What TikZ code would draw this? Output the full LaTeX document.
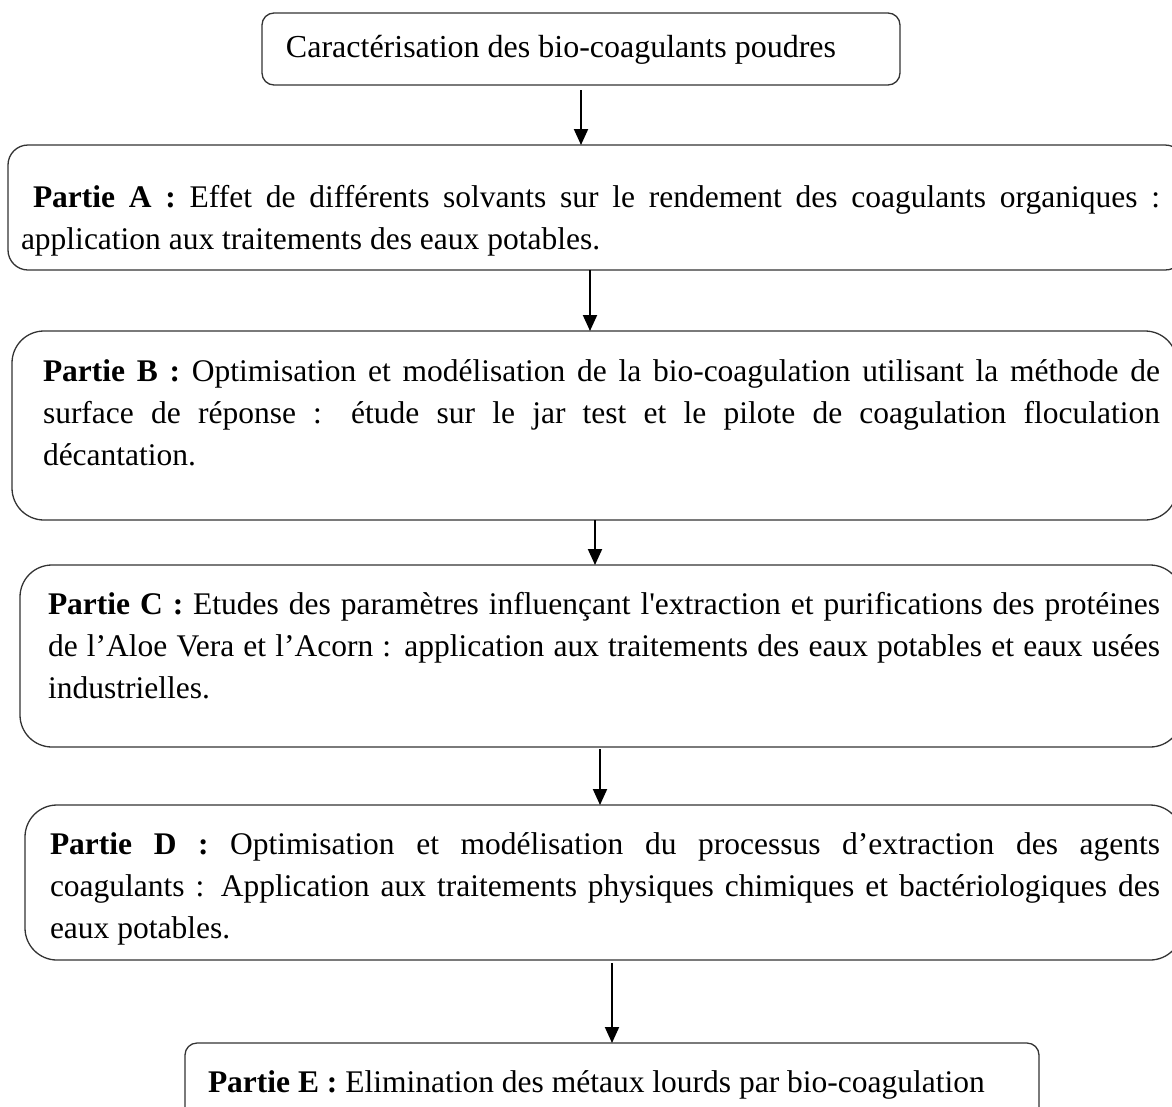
\documentclass[tikz,border=0pt]{standalone}
\usepackage{fontspec}
\newfontfamily\tnr{Liberation Serif}
\usetikzlibrary{arrows.meta}
\begin{document}
\begin{tikzpicture}[x=1pt,y=-1pt,
  every node/.style={inner sep=0pt, outer sep=0pt},
  frame/.style={draw=black!80, line width=1.3pt, rectangle, anchor=north west},
  body/.style={anchor=north west, align=justify, font=\tnr\fontsize{31.5}{42}\selectfont},
  flow/.style={line width=2pt, -{Triangle[width=14pt,length=16pt]}}
]
\useasboundingbox (0,0) rectangle (1172,1106);
\clip (0,0) rectangle (1172,1106);

% boxes (those on the right run past the page edge)
\node[frame, rounded corners=12pt, minimum width=638pt, minimum height=72pt] (top) at (262,13) {};
\node[frame, rounded corners=20pt, minimum width=1177pt, minimum height=125pt] (pa) at (8,145) {};
\node[frame, rounded corners=32pt, minimum width=1165pt, minimum height=189pt] (pb) at (12,331) {};
\node[frame, rounded corners=32pt, minimum width=1162pt, minimum height=182pt] (pc) at (20,565) {};
\node[frame, rounded corners=32pt, minimum width=1157pt, minimum height=155pt] (pd) at (25,805) {};
\node[frame, rounded corners=12pt, minimum width=854pt, minimum height=90pt] (pe) at (185,1043) {};

% texts
\node[font=\tnr\fontsize{32}{40}\selectfont] (ttop) at (561,50) {Caractérisation des bio-coagulants poudres};

\node[body, text width=1139pt] (ta) at (21,178)
  {\strut\hspace*{12pt}\textbf{Partie A :} Effet de différents solvants sur le rendement des coagulants organiques~: \linebreak application aux traitements des eaux potables.\strut};

\node[body, text width=1117pt] (tb) at (43,352)
  {\strut\textbf{Partie B :} Optimisation et modélisation de la bio-coagulation utilisant la méthode de \linebreak surface de réponse~: étude sur le jar test et le pilote de coagulation floculation \linebreak décantation.\strut};

\node[body, text width=1112pt] (tc) at (48,585)
  {\strut\textbf{Partie C :} Etudes des paramètres influençant l'extraction et purifications des protéines \linebreak de l’Aloe Vera et l’Acorn : application aux traitements des eaux potables et eaux usées \linebreak industrielles.\strut};

\node[body, text width=1110pt] (td) at (50,825)
  {\strut\textbf{Partie D :} Optimisation et modélisation du processus d’extraction des agents \linebreak coagulants : Application aux traitements physiques chimiques et bactériologiques des \linebreak eaux potables.\strut};

\node[anchor=north west, font=\tnr\fontsize{31.5}{42}\selectfont] (te) at (208,1063)
  {\strut\textbf{Partie E :} Elimination des métaux lourds par bio-coagulation};

% arrow columns
\coordinate (c1) at (581,0);
\coordinate (c2) at (590,0);
\coordinate (c3) at (595,0);
\coordinate (c4) at (600,0);
\coordinate (c5) at (612,0);

\draw[flow, shorten <=5pt] (top.south -| c1) -- (pa.north -| c1);
\draw[flow] (pa.south -| c2) -- (pb.north -| c2);
\draw[flow] (pb.south -| c3) -- (pc.north -| c3);
\draw[flow, shorten <=2pt] (pc.south -| c4) -- (pd.north -| c4);
\draw[flow, shorten <=3pt] (pd.south -| c5) -- (pe.north -| c5);
\end{tikzpicture}
\end{document}
